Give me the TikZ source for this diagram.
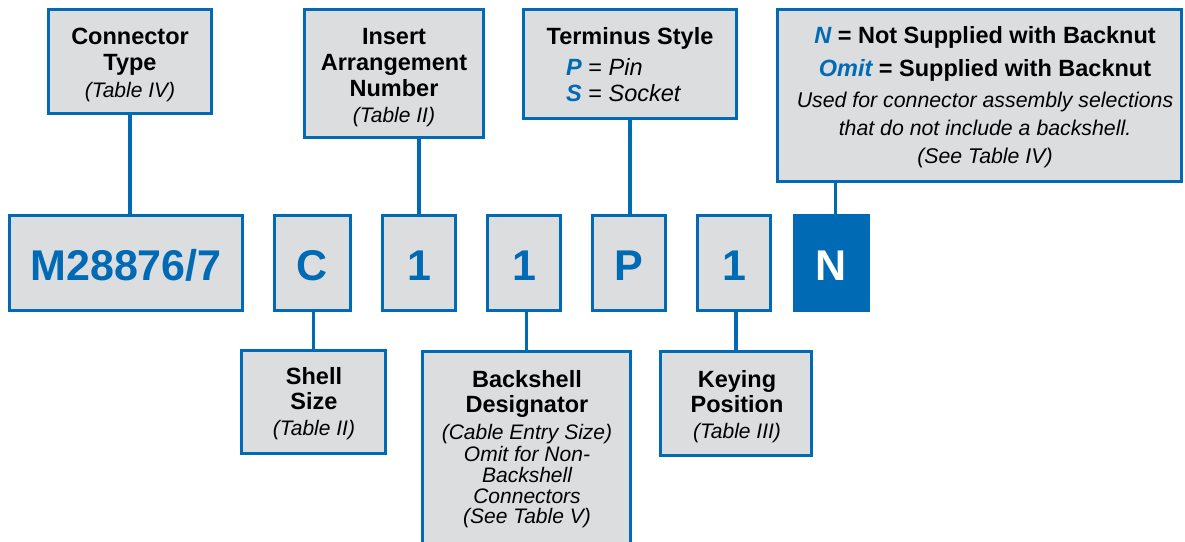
\documentclass[tikz,border=0pt]{standalone}
\usepackage{fontspec}
\setmainfont{Liberation Sans}
\usetikzlibrary{fit}
\definecolor{cblue}{HTML}{006AB5}
\definecolor{cgrey}{HTML}{DCDDDF}
\begin{document}
\begin{tikzpicture}[x=1pt,y=-1pt,
  box/.style={draw=cblue, fill=cgrey, line width=3.2pt, inner sep=0pt},
  dark/.style={draw=cblue, fill=cblue, line width=3.2pt, inner sep=0pt},
  link/.style={draw=cblue, line width=3.6pt},
  hd/.style={anchor=base, inner sep=0pt, font=\fontsize{23.5}{26}\selectfont\bfseries},
  tb/.style={anchor=base, inner sep=0pt, font=\fontsize{21}{24}\selectfont\itshape},
  it/.style={anchor=base, inner sep=0pt, font=\fontsize{21}{24}\selectfont\itshape},
  big/.style={anchor=base, inner sep=0pt, text=cblue, font=\fontsize{43}{48}\selectfont\bfseries}
]
\path[use as bounding box, clip] (0,0) rectangle (1185,541);

% top boxes
\node[box, fit={(48.5,9.5) (211.5,113.5)}] (ct) {};
\node[box, fit={(304.5,9.5) (483.5,137.5)}] (ia) {};
\node[box, fit={(523.5,9.5) (736.5,118.5)}] (ts) {};
\node[box, fit={(777.5,9.5) (1181.5,181.5)}] (nt) {};

% code row
\node[box, fit={(9.5,215.5) (242.5,310.5)}] (M) {};
\node[box, fit={(274.5,215.5) (350.5,310.5)}] (C) {};
\node[box, fit={(382.5,215.5) (455.5,310.5)}] (one) {};
\node[box, fit={(487.5,215.5) (560.5,310.5)}] (two) {};
\node[box, fit={(592.5,215.5) (665.5,310.5)}] (P) {};
\node[box, fit={(697.5,215.5) (770.5,310.5)}] (three) {};
\node[dark, fit={(794.5,215.5) (868.5,310.5)}] (N) {};

% bottom boxes
\node[box, fit={(241.5,350.5) (385.5,453.5)}] (ss) {};
\node[box, fit={(422.5,351.5) (630.5,560)}] (bd) {};
\node[box, fit={(660.5,351.5) (811.5,455.5)}] (kp) {};

% connectors
\draw[link] (ct.south) -- (ct.south |- M.north);
\draw[link] (one.north) -- (one.north |- ia.south);
\draw[link] (ts.south) -- (ts.south |- P.north);
\draw[link] ([xshift=4pt]N.north) -- ([xshift=4pt]N.north |- nt.south);
\draw[link] (ss.north) -- (ss.north |- C.south);
\draw[link] (bd.north) -- (bd.north |- two.south);
\draw[link] (kp.north) -- (kp.north |- three.south);

% code letters
\node[big] (tM) at (126,280) {M28876/7};
\node[big] (tC) at (312.5,280) {C};
\node[big] (t1) at (419,280) {1};
\node[big] (t2) at (524,280) {1};
\node[big] (tP) at (629,280) {P};
\node[big] (t3) at (734,280) {1};
\node[big, text=white] (tN) at (831.5,280) {N};

% connector type
\node[hd] (ct1) at (130,44) {Connector};
\node[hd] (ct2) at (130,70) {Type};
\node[tb] (ct3) at (130,97) {(Table IV)};

% insert arrangement
\node[hd] (ia1) at (394,44) {Insert};
\node[hd] (ia2) at (394,70) {Arrangement};
\node[hd] (ia3) at (394,96) {Number};
\node[tb] (ia4) at (394,122) {(Table II)};

% terminus style
\node[hd] (ts1) at (630,44) {Terminus Style};
\node[anchor=base west, inner sep=0pt, font=\fontsize{23.5}{26}\selectfont] (ts2) at (566,75)
  {{\bfseries\itshape\color{cblue}P} = \textit{Pin}};
\node[anchor=base west, inner sep=0pt, font=\fontsize{23.5}{26}\selectfont] (ts3) at (566,101)
  {{\bfseries\itshape\color{cblue}S} = \textit{Socket}};

% note
\node[hd] (nt1) at (985,43) {{\itshape\color{cblue}N} = Not Supplied with Backnut};
\node[hd] (nt2) at (985,76) {{\itshape\color{cblue}Omit} = Supplied with Backnut};
\node[anchor=base, inner sep=0pt, font=\fontsize{21.3}{24}\selectfont\itshape] (nt3) at (985,107) {Used for connector assembly selections};
\node[anchor=base, inner sep=0pt, font=\fontsize{21.3}{24}\selectfont\itshape] (nt4) at (985,135) {that do not include a backshell.};
\node[anchor=base, inner sep=0pt, font=\fontsize{21.3}{24}\selectfont\itshape] (nt5) at (985,163) {(See Table IV)};

% shell size
\node[hd] (ss1) at (314,384) {Shell};
\node[hd] (ss2) at (314,409) {Size};
\node[tb] (ss3) at (314,435) {(Table II)};

% backshell designator
\node[hd] (bd1) at (527,387) {Backshell};
\node[hd] (bd2) at (527,412) {Designator};
\node[it] (bd3) at (527,439) {(Cable Entry Size)};
\node[it] (bd4) at (527,461) {Omit for Non-};
\node[it] (bd5) at (527,482) {Backshell};
\node[it] (bd6) at (527,503) {Connectors};
\node[it] (bd7) at (527,523) {(See Table V)};

% keying position
\node[hd] (kp1) at (737,387) {Keying};
\node[hd] (kp2) at (737,412) {Position};
\node[tb] (kp3) at (737,438) {(Table III)};
\end{tikzpicture}
\end{document}
